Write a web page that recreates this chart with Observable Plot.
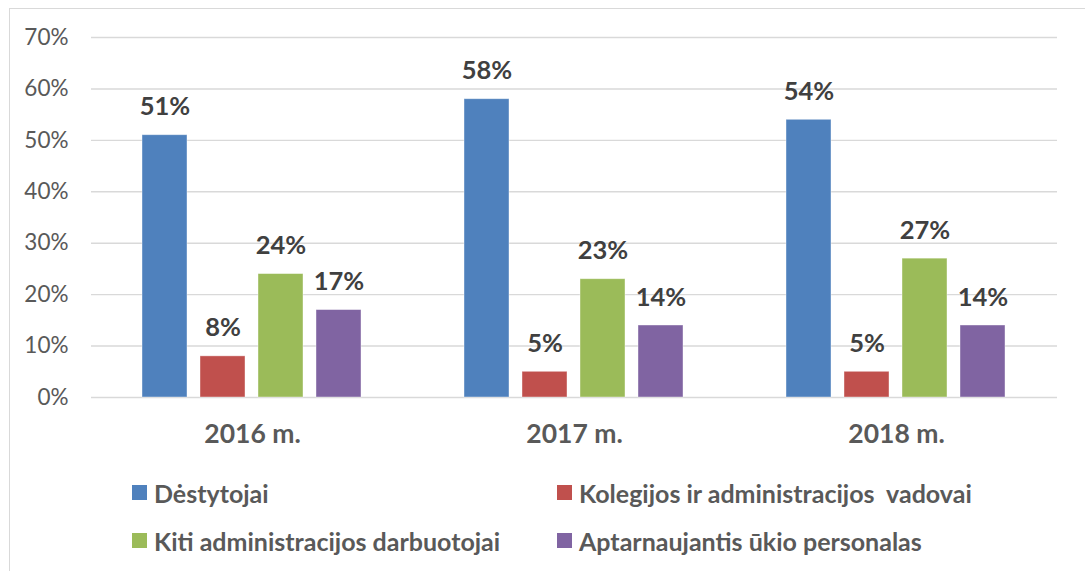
<!DOCTYPE html>
<html>
<head>
<meta charset="utf-8">
<script src="https://cdn.jsdelivr.net/npm/d3@7"></script>
<script src="https://cdn.jsdelivr.net/npm/@observablehq/plot@0.6"></script>
<style>
  html, body { margin: 0; padding: 0; background: #fff; }
  #wrap { position: relative; width: 1085px; height: 571px; overflow: hidden; background: #fff; font-family: Lato, sans-serif; }
  #frame { position: absolute; left: 9px; top: 8px; width: 1200px; height: 700px; border-left: 1.5px solid #d9d9d9; border-top: 1.5px solid #d9d9d9; }
  #chart { position: absolute; left: 0; top: 0; }
  .leg { position: absolute; display: flex; align-items: center; font-weight: bold; font-size: 25px; color: #595959; white-space: pre; }
  .sw { width: 15px; height: 15px; margin-right: 7px; flex: none; }
</style>
</head>
<body>
<div id="wrap">
  <div id="frame"></div>
  <div id="chart"></div>
  <div id="legend"></div>
</div>
<script>
const years = ["2016 m.", "2017 m.", "2018 m."];
const categories = [
  "Dėstytojai",
  "Kolegijos ir administracijos  vadovai",
  "Kiti administracijos darbuotojai",
  "Aptarnaujantis ūkio personalas"
];
const destytojai = [51, 58, 54];
const vadovai = [8, 5, 5];
const kitiDarbuotojai = [24, 23, 27];
const aptarnaujantis = [17, 14, 14];
const yTicks = [0, 10, 20, 30, 40, 50, 60, 70];
const colors = ["#4F81BD", "#C0504D", "#9BBB59", "#8064A2"];

const series = [destytojai, vadovai, kitiDarbuotojai, aptarnaujantis];
const rows = [];
years.forEach((yr, i) => {
  categories.forEach((c, j) => {
    rows.push({year: yr, category: c, value: series[j][i]});
  });
});

const chart = Plot.plot({
  width: 1085,
  height: 460,
  marginLeft: 91,
  marginRight: 28,
  marginTop: 37,
  marginBottom: 63,
  style: {fontFamily: "Lato, sans-serif", background: "transparent"},
  fx: {domain: years, padding: 0, label: null},
  x: {domain: categories, paddingInner: 0.216, paddingOuter: 0.85, axis: null, label: null},
  y: {domain: [0, 70], axis: null, label: null},
  color: {domain: categories, range: colors},
  marks: [
    Plot.gridY(yTicks, {stroke: "#d9d9d9", strokeOpacity: 1, strokeWidth: 1.4}),
    Plot.axisY(yTicks, {tickSize: 0, tickPadding: 23, tickFormat: d => d + "%", fontSize: 22.5, fill: "#595959", label: null}),
    Plot.axisFx({anchor: "bottom", tickSize: 0, tickPadding: 27, fontSize: 26.5, fontWeight: "bold", fill: "#595959", label: null}),
    Plot.barY(rows, {fx: "year", x: "category", y: "value", fill: "category", inset: 0, stroke: "#ffffff", strokeOpacity: 0.5, strokeWidth: 0.8}),
    Plot.text(rows, {fx: "year", x: "category", y: "value", text: d => d.value + "%", lineAnchor: "bottom", dy: -20, fontSize: 25.5, fontWeight: "bold", fill: "#404040"})
  ]
});
document.getElementById("chart").appendChild(chart);

const legendPos = [
  {left: 132, top: 485},
  {left: 557, top: 485},
  {left: 132, top: 533},
  {left: 557, top: 533}
];
const legend = document.getElementById("legend");
categories.forEach((c, i) => {
  const item = document.createElement("div");
  item.className = "leg";
  item.style.left = legendPos[i].left + "px";
  item.style.top = (legendPos[i].top - 8) + "px";
  item.style.height = "31px";
  const sw = document.createElement("div");
  sw.className = "sw";
  sw.style.background = colors[i];
  const t = document.createElement("span");
  t.textContent = c;
  item.appendChild(sw);
  item.appendChild(t);
  legend.appendChild(item);
});
</script>
</body>
</html>
